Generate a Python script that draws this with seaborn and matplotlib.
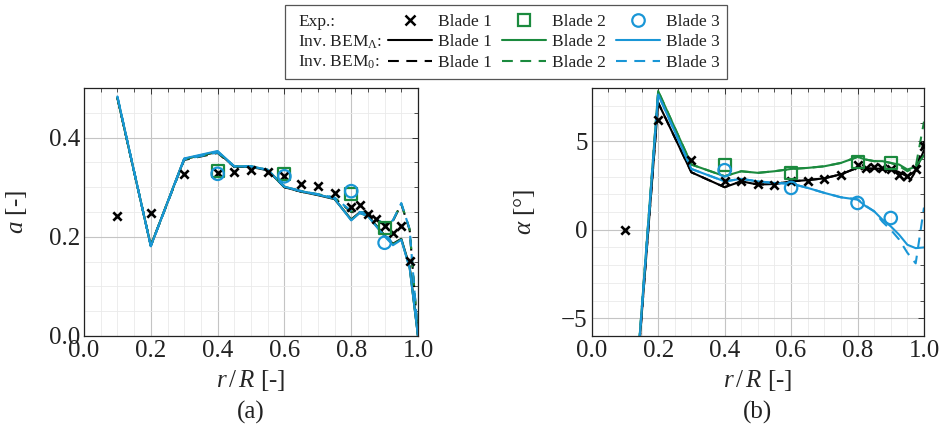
import numpy as np
import pandas as pd
import matplotlib
matplotlib.use("Agg")
import matplotlib.pyplot as plt
from matplotlib.lines import Line2D
from matplotlib.patches import Rectangle
from matplotlib.ticker import MultipleLocator
import seaborn as sns

# ---- data ----
blades = ["Blade 1", "Blade 2", "Blade 3"]
models = ["lam", "zero"]

r_exp = [0.1, 0.2, 0.3, 0.4, 0.45, 0.5, 0.55, 0.6, 0.65, 0.7, 0.75, 0.8,
         0.825, 0.85, 0.875, 0.9, 0.925, 0.95, 0.975, 1.0]
a_exp_b1 = [0.241, 0.247, 0.326, 0.329, 0.331, 0.334, 0.331, 0.322, 0.307, 0.302,
            0.289, 0.260, 0.265, 0.246, 0.236, 0.221, 0.208, 0.221, 0.152, np.nan]
alpha_exp_b1 = [0.0, 6.19, 3.92, 2.77, 2.73, 2.58, 2.53, 2.73, 2.73, 2.87,
                3.11, 3.68, 3.49, 3.55, 3.49, 3.43, 3.11, 3.02, 3.40, 4.75]

r_exp_23 = [0.4, 0.6, 0.8, 0.9]
a_exp_b2 = [0.332, 0.326, 0.287, 0.217]
a_exp_b3 = [0.327, 0.322, 0.292, 0.188]
alpha_exp_b2 = [3.68, 3.21, 3.81, 3.77]
alpha_exp_b3 = [3.36, 2.36, 1.51, 0.66]

r_bem = [0.1, 0.2, 0.3, 0.4, 0.45, 0.5, 0.55, 0.6, 0.65, 0.7, 0.75, 0.8,
         0.825, 0.85, 0.875, 0.9, 0.925, 0.95, 0.975, 1.0]

# induction factor a, inverse BEM with tip loss (lam) and without (zero)
a_lam_b1 = [0.480, 0.182, 0.357, 0.371, 0.341, 0.341, 0.334, 0.300, 0.291, 0.284,
            0.276, 0.235, 0.249, 0.243, 0.223, 0.203, 0.186, 0.196, 0.140, 0.0]
a_lam_b2 = [0.481, 0.182, 0.357, 0.372, 0.342, 0.342, 0.335, 0.301, 0.292, 0.285,
            0.277, 0.234, 0.248, 0.242, 0.222, 0.202, 0.185, 0.195, 0.138, 0.0]
a_lam_b3 = [0.483, 0.181, 0.358, 0.373, 0.342, 0.342, 0.335, 0.301, 0.292, 0.285,
            0.277, 0.233, 0.248, 0.242, 0.221, 0.201, 0.183, 0.194, 0.137, 0.0]
a_zero_b1 = [0.480, 0.182, 0.355, 0.369, 0.341, 0.341, 0.334, 0.300, 0.291, 0.285,
             0.278, 0.250, 0.249, 0.247, 0.234, 0.225, 0.232, 0.266, 0.214, 0.0]
a_zero_b2 = [0.481, 0.182, 0.356, 0.370, 0.342, 0.342, 0.335, 0.301, 0.292, 0.286,
             0.279, 0.251, 0.250, 0.248, 0.235, 0.226, 0.233, 0.267, 0.215, 0.0]
a_zero_b3 = [0.483, 0.181, 0.356, 0.370, 0.342, 0.342, 0.335, 0.301, 0.292, 0.286,
             0.279, 0.252, 0.250, 0.248, 0.235, 0.226, 0.233, 0.268, 0.215, 0.0]

# angle of attack alpha [deg]
alpha_lam_b1 = [-17.0, 7.17, 3.24, 2.40, 2.73, 2.55, 2.58, 2.73, 2.80, 2.90,
                3.13, 3.50, 3.45, 3.45, 3.45, 3.45, 3.25, 3.00, 3.30, 4.50]
alpha_lam_b2 = [-17.0, 7.83, 3.68, 3.02, 3.30, 3.21, 3.30, 3.43, 3.49, 3.58,
                3.77, 4.11, 3.96, 3.87, 3.87, 3.77, 3.68, 3.40, 3.55, 4.20]
alpha_lam_b3 = [-17.0, 7.64, 3.43, 2.73, 2.87, 2.73, 2.64, 2.60, 2.36, 2.08,
                1.83, 1.70, 1.32, 1.04, 0.57, 0.19, -0.28, -0.85, -1.04, -1.00]
alpha_zero_b1 = [-17.0, 7.17, 3.24, 2.40, 2.73, 2.55, 2.58, 2.73, 2.80, 2.90,
                 3.13, 3.50, 3.45, 3.45, 3.40, 3.35, 3.10, 2.55, 3.30, 5.00]
alpha_zero_b2 = [-17.0, 7.83, 3.68, 3.02, 3.30, 3.21, 3.30, 3.43, 3.49, 3.58,
                 3.77, 4.11, 3.96, 3.87, 3.87, 3.77, 3.60, 3.30, 3.55, 6.10]
alpha_zero_b3 = [-17.0, 7.64, 3.43, 2.73, 2.87, 2.73, 2.64, 2.60, 2.36, 2.08,
                 1.83, 1.72, 1.35, 1.04, 0.45, 0.00, -0.55, -1.30, -1.90, 1.25]

colors = {"Blade 1": "#000000", "Blade 2": "#1b8a3e", "Blade 3": "#1996d6"}


def bem_frame(series):
    rows = []
    for (blade, model), vals in series.items():
        for r, v in zip(r_bem, vals):
            rows.append({"r": r, "v": v, "blade": blade, "model": model})
    return pd.DataFrame(rows)


bem_a = bem_frame({("Blade 1", "lam"): a_lam_b1, ("Blade 1", "zero"): a_zero_b1,
                   ("Blade 2", "lam"): a_lam_b2, ("Blade 2", "zero"): a_zero_b2,
                   ("Blade 3", "lam"): a_lam_b3, ("Blade 3", "zero"): a_zero_b3})
bem_alpha = bem_frame({("Blade 1", "lam"): alpha_lam_b1, ("Blade 1", "zero"): alpha_zero_b1,
                       ("Blade 2", "lam"): alpha_lam_b2, ("Blade 2", "zero"): alpha_zero_b2,
                       ("Blade 3", "lam"): alpha_lam_b3, ("Blade 3", "zero"): alpha_zero_b3})

# ---- style ----
sns.set_theme(style="white")
plt.rcParams["font.family"] = ["Liberation Serif", "DejaVu Serif"]
plt.rcParams["mathtext.fontset"] = "custom"
plt.rcParams["mathtext.rm"] = "Liberation Serif"
plt.rcParams["mathtext.it"] = "Liberation Serif:italic"
plt.rcParams["axes.unicode_minus"] = True
plt.rcParams["text.color"] = "#222222"

LW = 1.5
DASH = (5.2, 3.6)
FS = 18
LEG_FS = 12.5

fig = plt.figure(figsize=(9.48, 4.34), dpi=100)
ax_a = fig.add_axes([84 / 948, 1 - 336 / 434, 334 / 948, 248 / 434])
ax_b = fig.add_axes([591.7 / 948, 1 - 336 / 434, 332.3 / 948, 248 / 434])


def draw_panel(ax, bem, exp1, exp2, exp3):
    sns.lineplot(data=bem, x="r", y="v", hue="blade", style="model",
                 hue_order=blades, style_order=models, palette=colors,
                 dashes={"lam": "", "zero": DASH}, estimator=None, sort=False,
                 legend=False, lw=LW, ax=ax)
    sns.scatterplot(x=r_exp, y=exp1, marker="x", color="black", s=36,
                    linewidth=1.9, zorder=3, ax=ax)
    sns.scatterplot(x=r_exp_23, y=exp2, marker="s", s=75, facecolor="none",
                    edgecolor=colors["Blade 2"], linewidth=1.6, zorder=3, ax=ax)
    sns.scatterplot(x=r_exp_23, y=exp3, marker="o", s=80, facecolor="none",
                    edgecolor=colors["Blade 3"], linewidth=1.6, zorder=3, ax=ax)
    ax.set_xlim(0, 1)
    ax.xaxis.set_major_locator(MultipleLocator(0.2))
    ax.xaxis.set_minor_locator(MultipleLocator(0.05))
    ax.grid(which="major", color="#c4c4c4", lw=0.8)
    ax.grid(which="minor", color="#eaeaea", lw=0.6)
    ax.set_axisbelow(True)
    ax.tick_params(which="both", direction="in", top=True, right=True,
                   color="#333333", labelsize=FS, labelcolor="#222222")
    ax.tick_params(which="major", length=4.2, width=0.7, pad=3)
    ax.tick_params(which="minor", length=2.7, width=0.6)
    for sp in ax.spines.values():
        sp.set_color("#222222")
        sp.set_linewidth(0.9)
    ax.set_xlabel(r"$r\,/\,R$ [-]", fontsize=FS, labelpad=4)


draw_panel(ax_a, bem_a, a_exp_b1, a_exp_b2, a_exp_b3)
ax_a.set_ylim(0, 0.5)
ax_a.yaxis.set_major_locator(MultipleLocator(0.2))
ax_a.yaxis.set_minor_locator(MultipleLocator(0.05))
ax_a.yaxis.set_major_formatter(lambda v, p: f"{v:.1f}")
ax_a.xaxis.set_major_formatter(lambda v, p: f"{v:.1f}")
ax_a.set_ylabel(r"$a$ [-]", fontsize=FS)
ax_a.yaxis.set_label_coords(-0.165, 0.5)
ax_a.text(0.5, -0.31, "(a)", transform=ax_a.transAxes, ha="center", va="center",
          fontsize=FS)

draw_panel(ax_b, bem_alpha, alpha_exp_b1, alpha_exp_b2, alpha_exp_b3)
ax_b.set_ylim(-6, 8)
ax_b.yaxis.set_major_locator(MultipleLocator(5))
ax_b.yaxis.set_minor_locator(MultipleLocator(1))
ax_b.xaxis.set_major_formatter(lambda v, p: f"{v:.1f}")
ax_b.set_ylabel(r"$\alpha$ [°]", fontsize=FS)
ax_b.yaxis.set_label_coords(-0.165, 0.5)
ax_b.text(0.5, -0.31, "(b)", transform=ax_b.transAxes, ha="center", va="center",
          fontsize=FS)

# ---- legend ----
handles = []
for b, mk in zip(blades, ["x", "s", "o"]):
    c = colors[b]
    if mk == "x":
        handles.append(Line2D([], [], ls="none", marker="x", color=c, ms=7, mew=1.8))
    else:
        handles.append(Line2D([], [], ls="none", marker=mk, mfc="none", mec=c,
                              ms=9, mew=1.6))
    handles.append(Line2D([], [], color=c, lw=LW))
    handles.append(Line2D([], [], color=c, lw=LW, dashes=DASH))
labels = [b for b in blades for _ in range(3)]

leg = fig.legend(handles, labels, ncol=3, loc="upper left",
                 bbox_to_anchor=(388 / 948, 1 - 14 / 434), frameon=False,
                 fontsize=LEG_FS, handlelength=2.55, handletextpad=0.35,
                 columnspacing=0.55, labelspacing=0.24, borderpad=0,
                 borderaxespad=0)

fig.canvas.draw()
renderer = fig.canvas.get_renderer()
inv = fig.transFigure.inverted()
row_names = ["Exp.:", r"Inv. BEM$_{\Lambda}$:", r"Inv. BEM$_{0}$:"]
for i, name in enumerate(row_names):
    bb = leg.get_texts()[i].get_window_extent(renderer)
    yc = inv.transform((0, (bb.y0 + bb.y1) / 2))[1]
    fig.text(298 / 948, yc, name, ha="left", va="center", fontsize=LEG_FS)

fig.add_artist(Rectangle((285 / 948, 1 - 79 / 434), (727 - 285) / 948, 74 / 434,
                         transform=fig.transFigure, fill=False,
                         edgecolor="#555555", lw=0.9))

fig.savefig("out.png", dpi=100)
